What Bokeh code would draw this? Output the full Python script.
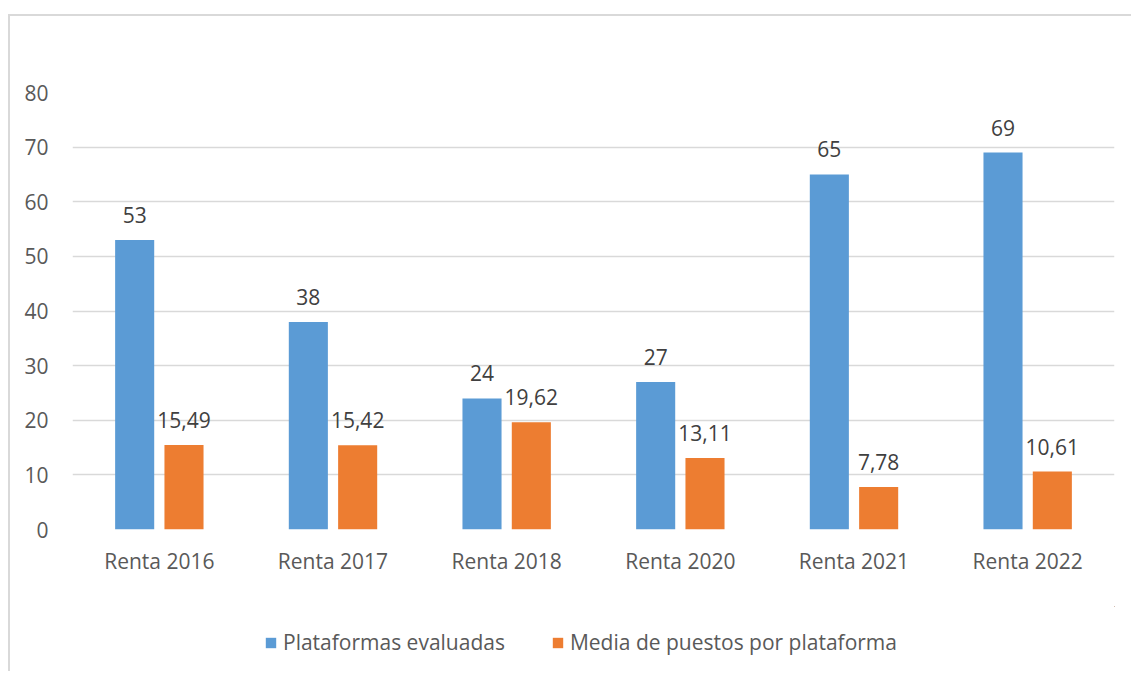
from bokeh.plotting import figure
from bokeh.models import ColumnDataSource, Range1d, FixedTicker, Legend, LegendItem, LabelSet
from bokeh.layouts import column
from bokeh.transform import dodge
from bokeh.core.properties import value
from bokeh.embed import file_html
from bokeh.resources import INLINE

categories = ["Renta 2016", "Renta 2017", "Renta 2018", "Renta 2020", "Renta 2021", "Renta 2022"]
plataformas = [53, 38, 24, 27, 65, 69]
media = [15.49, 15.42, 19.62, 13.11, 7.78, 10.61]
series_names = ["Plataformas evaluadas", "Media de puestos por plataforma"]
y_ticks = [0, 10, 20, 30, 40, 50, 60, 70, 80]

def fmt(v):
    s = ("%.2f" % v) if isinstance(v, float) else str(v)
    return s.replace(".", ",")

src = ColumnDataSource(dict(
    cat=categories,
    a=plataformas,
    b=media,
    a_lbl=[fmt(v) for v in plataformas],
    b_lbl=[fmt(v) for v in media],
))

FONT = "Open Sans"
FS = "21px"
BLUE = "#5B9BD5"
ORANGE = "#ED7D31"
W = 1121

p = figure(x_range=categories, width=W, height=590, output_backend="svg",
           toolbar_location=None, min_border_left=62, min_border_right=17,
           min_border_top=76, min_border_bottom=77)
p.x_range.range_padding = 0
p.y_range = Range1d(0, 80)
p.outline_line_color = None
p.background_fill_color = "white"
p.border_fill_color = "white"

off = 0.142
w = 0.225
p.vbar(x=dodge("cat", -off, range=p.x_range), top="a", width=w, source=src,
       fill_color=BLUE, line_color=None)
p.vbar(x=dodge("cat", off, range=p.x_range), top="b", width=w, source=src,
       fill_color=ORANGE, line_color=None)

for col, lbl, o in (("a", "a_lbl", -off), ("b", "b_lbl", off)):
    ls = LabelSet(x=dodge("cat", o, range=p.x_range), y=col, text=lbl, source=src,
                  text_align="center", text_baseline="alphabetic", y_offset=17,
                  text_font=value(FONT), text_font_size=FS, text_color="#404040")
    p.add_layout(ls)

p.yaxis.ticker = FixedTicker(ticks=y_ticks)
p.yaxis.axis_line_color = None
p.yaxis.major_tick_line_color = None
p.yaxis.minor_tick_line_color = None
p.yaxis.major_tick_out = 0
p.yaxis.major_label_standoff = 24
p.yaxis.major_label_text_font = FONT
p.yaxis.major_label_text_font_size = FS
p.yaxis.major_label_text_color = "#595959"

p.xaxis.axis_line_color = None
p.xaxis.major_tick_line_color = None
p.xaxis.major_tick_out = 0
p.xaxis.major_label_standoff = 17
p.xaxis.major_label_text_font = FONT
p.xaxis.major_label_text_font_size = FS
p.xaxis.major_label_text_color = "#595959"

p.xgrid.grid_line_color = None
p.ygrid.ticker = FixedTicker(ticks=y_ticks)
p.ygrid.grid_line_color = "#d9d9d9"
p.ygrid.grid_line_width = 1.5

# legend panel below the chart (its zero-width bars lie outside its visible range)
lg = figure(width=W, height=65, output_backend="svg", toolbar_location=None,
            x_axis_type=None, y_axis_type=None, min_border=0,
            x_range=Range1d(-1000, -999), y_range=Range1d(-1000, -999))
lg.outline_line_color = None
lg.grid.grid_line_color = None
lg.background_fill_color = "white"
lg.border_fill_color = "white"
da = lg.vbar(x="a", top="a", width=0, source=src, fill_color=BLUE, line_color=None)
db = lg.vbar(x="b", top="b", width=0, source=src, fill_color=ORANGE, line_color=None)
legend = Legend(items=[LegendItem(label=series_names[0], renderers=[da]),
                       LegendItem(label=series_names[1], renderers=[db])],
                orientation="horizontal", location=(192, 15))
legend.glyph_width = 13
legend.glyph_height = 13
legend.label_standoff = 6
legend.spacing = 46
legend.padding = 0
legend.margin = 0
legend.border_line_alpha = 0
legend.background_fill_alpha = 0
legend.label_text_font = FONT
legend.label_text_font_size = FS
legend.label_text_color = "#595959"
lg.add_layout(legend, "center")

layout = column(p, lg, spacing=0)
layout.margin = (14, 0, 0, 8)
layout.styles = {"border-left": "2px solid #d9d9d9", "border-top": "2px solid #d9d9d9"}

open("out.html", "w").write(file_html(layout, INLINE))
